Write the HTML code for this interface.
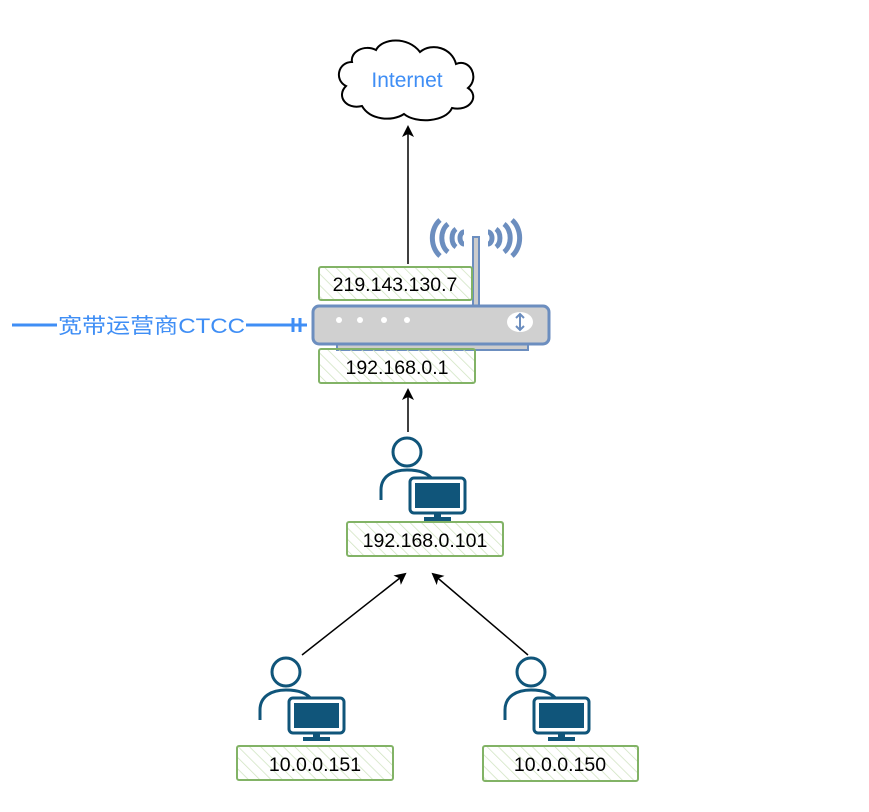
<!DOCTYPE html>
<html><head><meta charset="utf-8"><style>
html,body{margin:0;padding:0;background:#fff;}
svg{display:block;}
text{font-family:"Liberation Sans","Noto Sans CJK SC",sans-serif;}
</style></head><body>
<svg width="869" height="812" viewBox="0 0 869 812" xmlns="http://www.w3.org/2000/svg">
<defs>
<pattern id="h" width="8" height="8" patternUnits="userSpaceOnUse" patternTransform="rotate(-45)">
<line x1="0" y1="0" x2="0" y2="8" stroke="#cfe3c0" stroke-width="1.5"/>
</pattern>
<marker id="a" markerWidth="12" markerHeight="12" refX="10" refY="6" orient="auto" markerUnits="userSpaceOnUse">
<path d="M0,0 L12,6 L0,12 L3,6 Z" fill="#000"/>
</marker>
<g id="u">
<circle cx="0" cy="0" r="14" fill="#fff" stroke="#10557a" stroke-width="3"/>
<path d="M-26,48 V38 C-26,24 -14,18 0,18 C14,18 22,22 26,28" fill="#fff" stroke="#10557a" stroke-width="3"/>
<rect x="3" y="26" width="55" height="35" rx="4" fill="#fff" stroke="#10557a" stroke-width="3"/>
<rect x="8" y="31" width="45" height="25" fill="#10557a"/>
<rect x="27" y="61" width="7" height="5" fill="#10557a"/>
<rect x="17" y="65" width="27" height="4" fill="#10557a"/>
</g>
</defs>

<!-- cloud -->
<path d="M352,62 C338,62 334,80 346,86 C336,96 346,110 362,106 C370,120 392,122 404,114 C416,124 446,122 452,108 C470,112 480,96 468,88 C480,78 470,58 456,64 C452,48 432,42 420,52 C408,36 382,38 376,50 C364,44 350,52 352,62 Z" fill="#fff" stroke="#000" stroke-width="2"/>
<text x="407" y="87" font-size="21" fill="#3f8ef5" text-anchor="middle">Internet</text>

<!-- arrows -->
<line x1="408" y1="264" x2="408" y2="127" stroke="#000" stroke-width="1.5" marker-end="url(#a)"/>
<line x1="408" y1="432" x2="408" y2="390" stroke="#000" stroke-width="1.5" marker-end="url(#a)"/>
<line x1="302" y1="655" x2="405" y2="574" stroke="#000" stroke-width="1.5" marker-end="url(#a)"/>
<line x1="528" y1="655" x2="433" y2="574" stroke="#000" stroke-width="1.5" marker-end="url(#a)"/>

<!-- router -->
<g fill="none" stroke="#6c8ebf" stroke-width="5">
<path d="M448,224 a12,16 0 0 0 0,28"/>
<path d="M456,229 a7,10 0 0 0 0,18"/>
<path d="M440,220 a18,22 0 0 0 0,36"/>
<path d="M464,232 a4,6 0 0 0 0,12"/>
<path d="M504,224 a12,16 0 0 1 0,28"/>
<path d="M496,229 a7,10 0 0 1 0,18"/>
<path d="M512,220 a18,22 0 0 1 0,36"/>
<path d="M488,232 a4,6 0 0 1 0,12"/>
</g>
<rect x="473" y="237" width="6" height="70" fill="#ccc" stroke="#6c8ebf" stroke-width="2"/>
<rect x="337" y="340" width="191" height="10" fill="#ccc" stroke="#6c8ebf" stroke-width="2"/>
<rect x="313" y="306" width="236" height="38" rx="6" fill="#d0d0d0" stroke="#6c8ebf" stroke-width="3"/>
<circle cx="339" cy="320" r="3" fill="#fff"/><circle cx="360" cy="320" r="3" fill="#fff"/><circle cx="384" cy="320" r="3" fill="#fff"/><circle cx="407" cy="320" r="3" fill="#fff"/>
<ellipse cx="520" cy="322" rx="13" ry="10" fill="#fff"/>
<path d="M520,315 V329 M516,318 L520,314 L524,318 M516,326 L520,330 L524,326" fill="none" stroke="#6c8ebf" stroke-width="2"/>

<!-- labels -->
<g stroke="#82b366" stroke-width="2">
<rect x="319" y="267" width="153" height="33" rx="2" fill="url(#h)"/>
<rect x="319" y="349" width="156" height="34" rx="2" fill="url(#h)"/>
<rect x="347" y="522" width="156" height="34" rx="2" fill="url(#h)"/>
<rect x="237" y="746" width="156" height="34" rx="2" fill="url(#h)"/>
<rect x="483" y="746" width="155" height="35" rx="2" fill="url(#h)"/>
</g>
<g font-size="19.5" fill="#000" text-anchor="middle">
<text x="395" y="291">219.143.130.7</text>
<text x="397" y="374">192.168.0.1</text>
<text x="425" y="547">192.168.0.101</text>
<text x="315" y="771">10.0.0.151</text>
<text x="560" y="771">10.0.0.150</text>
</g>

<!-- users -->
<use href="#u" x="407" y="452"/>
<use href="#u" x="286" y="672"/>
<use href="#u" x="531" y="672"/>

<!-- left link -->
<line x1="12" y1="325" x2="57" y2="325" stroke="#3f8ef5" stroke-width="3"/>
<text x="58" y="333" font-size="21" fill="#3f8ef5" textLength="187" lengthAdjust="spacingAndGlyphs">宽带运营商CTCC</text>
<line x1="246" y1="325" x2="307" y2="325" stroke="#3f8ef5" stroke-width="3"/>
<line x1="293" y1="318" x2="293" y2="332" stroke="#3f8ef5" stroke-width="3"/>
<line x1="300" y1="318" x2="300" y2="332" stroke="#3f8ef5" stroke-width="3"/>
</svg>
</body></html>
